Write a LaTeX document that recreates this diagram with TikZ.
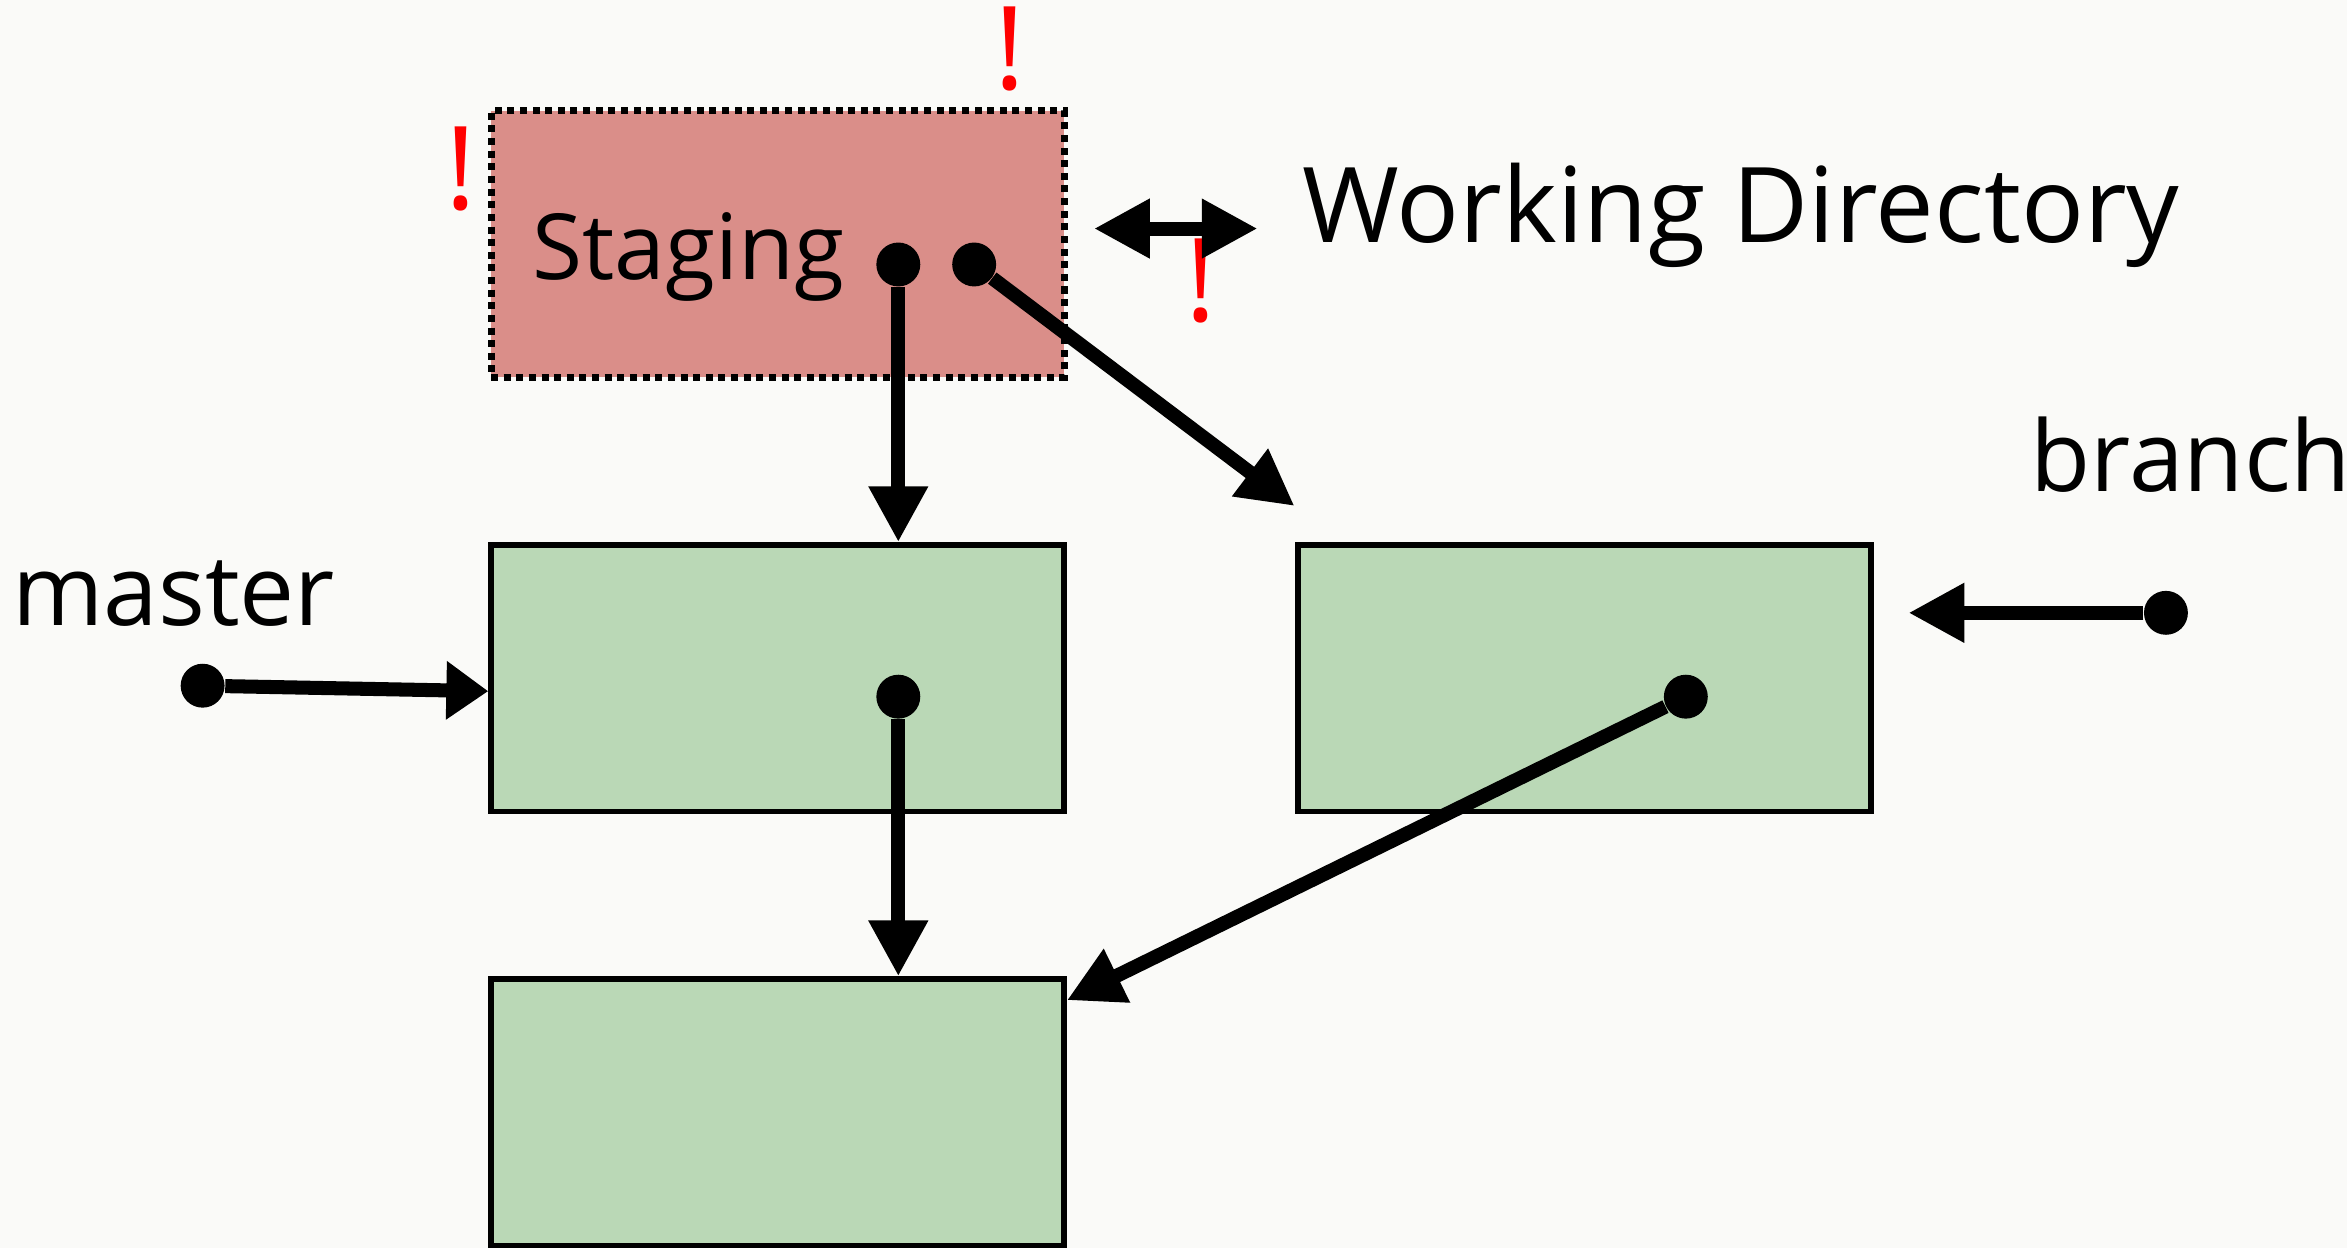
\documentclass[tikz,border=0pt]{standalone}
\usepackage{fontspec}
\setmainfont{Open Sans}
\usetikzlibrary{arrows.meta}
\definecolor{stagered}{HTML}{DA8E89}
\definecolor{commitgreen}{HTML}{BAD8B6}
\definecolor{paper}{HTML}{FAFAF8}
\definecolor{bangred}{HTML}{FF0000}

\begin{document}
\begin{tikzpicture}[
  commit/.style={rectangle, draw, line width=1.6pt, fill=commitgreen, minimum width=5.74cm, minimum height=2.67cm, inner sep=0pt},
  dot/.style={circle, fill=black, inner sep=0pt, minimum size=0.44cm},
  ref/.style={line width=4pt, -{Triangle[length=0.56cm, width=0.56cm]}},
  lbl/.style={font=\fontsize{28}{34}\selectfont, inner sep=0pt, anchor=base},
  bang/.style={text=bangred, font=\fontsize{33}{38}\selectfont, inner sep=0pt, anchor=base}
]

\fill[paper] (0,0) rectangle (23.51,12.5);

\node (staging) at (7.79,10.055) [rectangle, draw, line width=2pt, dash pattern=on 2pt off 1.6pt, fill=stagered, minimum width=5.74cm, minimum height=2.67cm, inner sep=0pt] {};
\node[commit] (commitA) at (7.79,5.705) {};
\node[commit] (commitB) at (15.875,5.705) {};
\node[commit] (commitC) at (7.79,1.355) {};

\node[lbl, font=\fontsize{26}{32}\selectfont] (stagingtxt) at (6.90,9.70) {Staging};
\node[lbl, font=\fontsize{29.8}{36}\selectfont] (workdir) at (17.44,10.07) {Working Directory};
\node[lbl] (branchtxt) at (21.95,7.58) {branch};
\node[lbl] (mastertxt) at (1.74,6.23) {master};

\node[bang] (bangleft) at (4.62,10.40) {!};
\node[bang] (bangtop) at (10.12,11.60) {!};
\node[bang] (bangright) at (12.03,9.28) {!};

\node[dot] (s1) at (9.00,9.85) {};
\node[dot] (s2) at (9.76,9.85) {};
\node[dot] (a) at (9.00,5.52) {};
\node[dot] (b) at (16.89,5.52) {};
\node[dot] (m) at (2.03,5.63) {};
\node[dot] (br) at (21.70,6.36) {};

\coordinate (toB) at (12.97,7.43);
\coordinate (brtip) at (19.12,6.36);
\coordinate (wl) at (10.96,10.21);
\coordinate (wr) at (12.60,10.21);

\draw[ref] (s1) -- (s1 |- commitA.north);
\draw[ref] (s2) -- (toB);
\draw[ref] (a) -- (a |- commitC.north);
\draw[ref] (b) -- ([yshift=-0.24cm]commitC.north east);
\draw[ref] (br) -- (brtip);
\draw[line width=4pt, -{Triangle[length=0.42cm, width=0.56cm]}] (m) -- ([yshift=-0.13cm]commitA.west);
\draw[line width=4pt, {Triangle[length=0.56cm, width=0.56cm]}-{Triangle[length=0.56cm, width=0.56cm]}] (wl) -- (wr);
\end{tikzpicture}
\end{document}
